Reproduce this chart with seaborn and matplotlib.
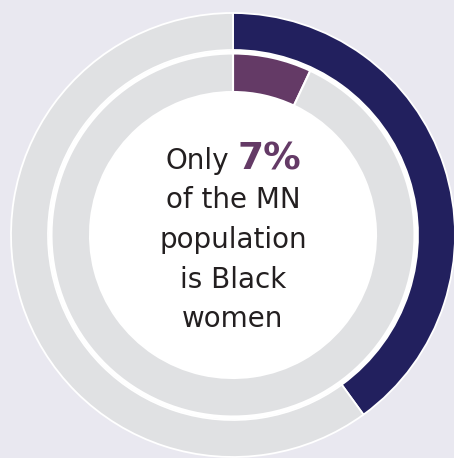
import matplotlib
matplotlib.use("Agg")
import matplotlib.pyplot as plt
import seaborn as sns
from matplotlib.patches import Circle

# Data
outer_labels = ["Highlighted share", "Rest"]
outer_values = [40, 60]
inner_labels = ["Black women", "Rest of MN population"]
inner_values = [7, 93]
text_lines = ["of the MN", "population", "is Black", "women"]
headline_prefix = "Only"
headline_value = "7%"

BG = "#e9e8f0"
GRAY = "#e0e1e3"
NAVY = "#22205e"
PURPLE = "#643a66"
TEXT = "#231f20"

sns.set_theme(style="white")
plt.rcParams["font.family"] = ["DejaVu Sans"]

W, H = 454, 458
fig = plt.figure(figsize=(W / 100, H / 100), dpi=100, facecolor=BG)
ax = fig.add_axes([0, 0, 1, 1])
ax.set_facecolor(BG)

cx, cy = 233, 235

# outer ring
ax.pie(outer_values, colors=[NAVY, GRAY], radius=222, center=(cx, cy),
       startangle=-90, counterclock=True,
       wedgeprops=dict(width=37, edgecolor="white", linewidth=1.3),
       frame=True)
# white separator disc
ax.add_patch(Circle((cx, cy), 184.5, facecolor="white", edgecolor="none", zorder=2))
# inner ring
wedges, _ = ax.pie(inner_values, colors=[PURPLE, GRAY], radius=181.5, center=(cx, cy),
                   startangle=-90, counterclock=True,
                   wedgeprops=dict(width=38.5, edgecolor="white", linewidth=1.5),
                   frame=True)
for w in wedges:
    w.set_zorder(3)
ax.add_patch(Circle((cx, cy), 143, facecolor="white", edgecolor="none", zorder=4))

ax.set_xlim(0, W)
ax.set_ylim(H, 0)
ax.set_aspect("equal")
ax.axis("off")

fs = 20
ax.text(cx - 4, 169, headline_prefix, ha="right", va="baseline", fontsize=fs,
        color=TEXT, zorder=5)
ax.text(cx + 4, 169, headline_value, ha="left", va="baseline", fontsize=27,
        color=PURPLE, fontweight="bold", zorder=5)
baselines = [208, 248, 288, 327]
for t, b in zip(text_lines, baselines):
    ax.text(cx, b, t, ha="center", va="baseline", fontsize=fs, color=TEXT, zorder=5)

fig.savefig("out.png", dpi=100, facecolor=BG)
